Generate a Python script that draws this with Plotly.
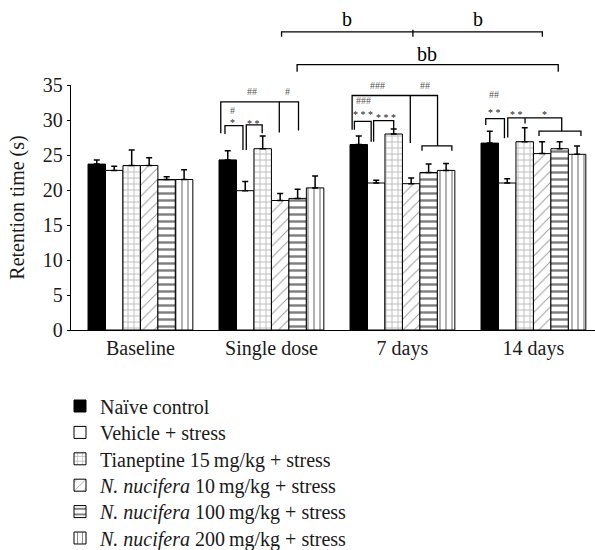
import plotly.graph_objects as go

# ---------------- data ----------------
categories = ["Baseline", "Single dose", "7 days", "14 days"]
series_names = [
    "Naïve control",
    "Vehicle + stress",
    "Tianeptine 15\u2009mg/kg + stress",
    "<i>N. nucifera</i> 10\u2009mg/kg + stress",
    "<i>N. nucifera</i> 100\u2009mg/kg + stress",
    "<i>N. nucifera</i> 200\u2009mg/kg + stress",
]
naive = [23.7, 24.3, 26.5, 26.7]
naive_err = [0.6, 1.3, 1.2, 1.7]
vehicle = [22.8, 19.9, 21.0, 21.0]
vehicle_err = [0.6, 1.3, 0.4, 0.6]
tianeptine = [23.5, 25.9, 28.0, 26.9]
tianeptine_err = [2.2, 1.8, 0.7, 2.0]
nn10 = [23.5, 18.5, 20.9, 25.2]
nn10_err = [1.1, 1.0, 0.8, 1.7]
nn100 = [21.5, 18.8, 22.5, 25.9]
nn100_err = [0.4, 1.3, 1.2, 1.0]
nn200 = [21.5, 20.3, 22.8, 25.1]
nn200_err = [1.4, 1.7, 1.0, 1.2]
y_ticks = [0, 5, 10, 15, 20, 25, 30, 35]

values = [naive, vehicle, tianeptine, nn10, nn100, nn200]
errors = [naive_err, vehicle_err, tianeptine_err, nn10_err, nn100_err, nn200_err]

# ---------------- styles ----------------
FONT = "Liberation Serif"
TXT = "#1a1a1a"
fills = ["black", "white", "white", "white", "white", "white"]
patterns = [
    dict(shape=""),
    dict(shape=""),
    dict(shape="+", fgcolor="#7a7a7a", bgcolor="white", size=6, solidity=0.3),
    dict(shape="/", fgcolor="#333333", bgcolor="white", size=8, solidity=0.12),
    dict(shape="-", fgcolor="black", bgcolor="white", size=7, solidity=0.35),
    dict(shape="|", fgcolor="black", bgcolor="white", size=6, solidity=0.2),
]

W, H = 595, 550
ML, MR, MT, MB = 71, 0, 85, 220
XMIN, XMAX = -0.53, 3.47
YMAX = 35.0
BARGAP = 0.2
NB = 6
BW = (1 - BARGAP) / NB

legend_ids = ["legend", "legend2", "legend3", "legend4", "legend5", "legend6"]

fig = go.Figure()
for name, v, e, fc, pat, lg in zip(series_names, values, errors, fills, patterns, legend_ids):
    fig.add_trace(go.Bar(
        x=list(range(len(categories))), y=v, name=name, legend=lg,
        marker=dict(color=fc, pattern=pat, line=dict(color="black", width=1)),
        error_y=dict(type="data", array=e, arrayminus=[0] * len(e), symmetric=False,
                     color="black", thickness=1.5, width=3),
    ))

# ---------------- significance annotations ----------------
def px_(g, u):
    cat = g + (u - (NB - 1) / 2) * BW
    return (cat - XMIN) / (XMAX - XMIN)

def py_(v):
    return v / YMAX

shapes = []
def poly(pts, width=1.3):
    d = "M " + " L ".join(f"{px_(g, u):.5f},{py_(v):.5f}" for g, u, v in pts)
    shapes.append(dict(type="path", path=d, xref="paper", yref="paper",
                       line=dict(color="black", width=width)))

annots = []
def label(g, u, v, text, size=10, color="#555555"):
    annots.append(dict(x=px_(g, u), y=py_(v), xref="paper", yref="paper", text=text,
                       showarrow=False, font=dict(family=FONT, size=size, color=color),
                       xanchor="center", yanchor="middle"))

def star(g, u, v, text):
    # asterisks sit high in the glyph box; nudge the box down
    label(g, u, v - 0.45, text, size=10, color="#222222")

# Single dose
poly([(1, -0.4, 28.1), (1, -0.4, 32.6), (1, 4.05, 32.6), (1, 4.05, 28.5)])
poly([(1, 2.95, 32.6), (1, 2.95, 28.2)])
poly([(1, -0.16, 28.0), (1, -0.16, 29.2), (1, 0.87, 29.2), (1, 0.87, 25.7)])
poly([(1, 1.06, 25.7), (1, 1.06, 29.3), (1, 1.97, 29.3), (1, 1.97, 28.1)])
label(1, 1.4, 34.1, "##")
label(1, 3.4, 34.1, "#")
label(1, 0.26, 31.4, "#")
star(1, 0.26, 30.1, "*")
star(1, 1.46, 29.9, "* *")

# 7 days
poly([(2, -0.38, 28.6), (2, -0.38, 33.5), (2, 4.51, 33.5), (2, 4.51, 26.3)])
poly([(2, 2.95, 33.5), (2, 2.95, 26.7)])
poly([(2, 3.62, 25.6), (2, 3.62, 26.3), (2, 5.33, 26.3), (2, 5.33, 25.6)])
poly([(2, -0.25, 28.6), (2, -0.25, 29.8), (2, 0.71, 29.8), (2, 0.71, 26.9)])
poly([(2, 0.85, 26.9), (2, 0.85, 29.9), (2, 2.0, 29.9), (2, 2.0, 28.7)])
label(2, 1.05, 35.0, "###")
label(2, 3.8, 35.0, "##")
label(2, 0.25, 32.8, "###")
star(2, 0.25, 31.3, "* * *")
star(2, 1.58, 30.8, "* * *")

# 14 days
poly([(3, -0.23, 29.3), (3, -0.23, 30.2), (3, 0.84, 30.2), (3, 0.84, 27.4)])
poly([(3, 1.03, 27.5), (3, 1.03, 30.3), (3, 4.12, 30.3), (3, 4.12, 28.4)])
poly([(3, 2.02, 30.3), (3, 2.02, 29.5)])
poly([(3, 2.82, 27.7), (3, 2.82, 28.4), (3, 5.22, 28.4), (3, 5.22, 27.7)])
label(3, 0.27, 33.6, "##")
star(3, 0.27, 31.5, "* *")
star(3, 1.55, 31.3, "* *")
star(3, 3.16, 31.3, "*")

# Top brackets
poly([(1, 3.08, 41.9), (1, 3.08, 42.6), (3, 3.01, 42.6), (3, 3.01, 41.9)])
poly([(2, 3.1, 42.9), (2, 3.1, 41.9)])
label(1, 3.08 + (3.1 + 7.5 - 3.08) / 2, 44.4, "b", size=20, color="black")
label(2, 3.1 + (3.01 + 7.5 - 3.1) / 2, 44.4, "b", size=20, color="black")
poly([(1, 3.97, 36.9), (1, 3.97, 37.9), (3, 3.92, 37.9), (3, 3.92, 36.9)])
label(2, 3.9, 39.4, "bb", size=20, color="black")

# ---------------- legends (one per row) ----------------
plot_h = H - MT - MB
plot_w = W - ML - MR
legend_rows_px = [406, 432.4, 458.8, 485.2, 511.6, 538]
legend_left_px = 60
legends = {}
for lg, rpx in zip(legend_ids, legend_rows_px):
    legends[lg] = dict(
        x=(legend_left_px - ML) / plot_w, y=(H - MB - rpx) / plot_h,
        xanchor="left", yanchor="middle", bgcolor="rgba(0,0,0,0)",
        font=dict(family=FONT, size=20, color=TXT), borderwidth=0,
    )

fig.update_layout(
    width=W, height=H,
    margin=dict(l=ML, r=MR, t=MT, b=MB, autoexpand=False),
    paper_bgcolor="white", plot_bgcolor="white",
    barmode="group", bargap=BARGAP, bargroupgap=0,
    font=dict(family=FONT, size=20, color=TXT),
    showlegend=True,
    shapes=shapes, annotations=annots,
    **legends,
)
fig.update_xaxes(range=[XMIN, XMAX], tickvals=list(range(len(categories))), ticktext=categories,
                 showline=True, linecolor="black", linewidth=1.3, ticks="", showgrid=False,
                 zeroline=False, tickfont=dict(family=FONT, size=20, color=TXT))
fig.update_yaxes(range=[0, YMAX], tickvals=y_ticks, showline=True, linecolor="black", linewidth=1.3,
                 ticks="outside", ticklen=3, tickcolor="black", showgrid=False, zeroline=False,
                 title=dict(text="Retention time (s)", font=dict(family=FONT, size=20), standoff=12),
                 tickfont=dict(family=FONT, size=20, color=TXT))

fig.write_html("out.html",
               config={"displayModeBar": False},
               post_script="document.body.style.margin='0px';document.body.style.overflow='hidden';")
